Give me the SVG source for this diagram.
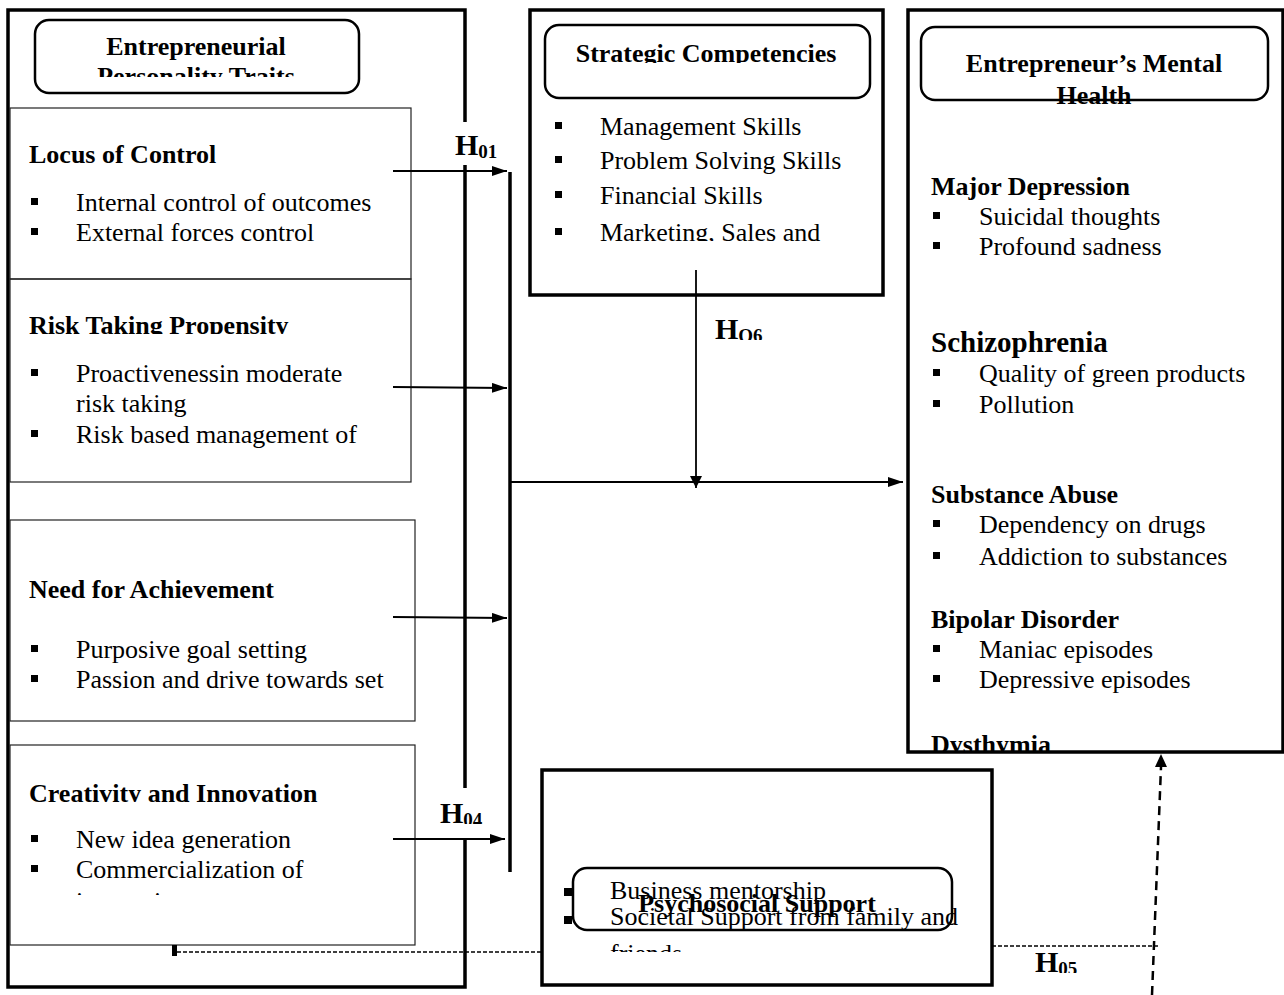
<svg xmlns="http://www.w3.org/2000/svg" width="1284" height="995" viewBox="0 0 1284 995">
<defs>
<style>
text{font-family:"Liberation Serif","Times New Roman",serif;fill:#000}
.t{font-size:26px}
.b{font-size:26px;font-weight:bold}
.bl{font-size:29px;font-weight:bold}
.h{font-size:30px;font-weight:bold}
.s{font-size:19px;font-weight:bold}
.outer{fill:none;stroke:#000;stroke-width:3.5}
.item{fill:none;stroke:#222;stroke-width:1.2}
.hdr{fill:none;stroke:#000;stroke-width:2.5}
.bul{fill:#000}
.ln{stroke:#000;stroke-width:1.8;fill:none}
.thick{stroke:#000;stroke-width:3.5;fill:none}
.dash{stroke:#000;stroke-width:1.3;stroke-dasharray:4 2;fill:none}
.dash2{stroke:#000;stroke-width:2.5;stroke-dasharray:9 6;fill:none}
.mid{text-anchor:middle}
</style>
<marker id="arr" viewBox="0 0 15 10" refX="15" refY="5" markerWidth="15" markerHeight="10" markerUnits="userSpaceOnUse" orient="auto"><path d="M0,0 L15,5 L0,10 z" fill="#000"/></marker>
<marker id="arr2" viewBox="0 0 12 12" refX="12" refY="6" markerWidth="12" markerHeight="12" markerUnits="userSpaceOnUse" orient="auto"><path d="M0,0 L12,6 L0,12 z" fill="#000"/></marker>
<clipPath id="cEPT"><rect x="0" y="0" width="465" height="77"/></clipPath>
<clipPath id="cRisk"><rect x="0" y="300" width="465" height="34"/></clipPath>
<clipPath id="cCre"><rect x="0" y="760" width="465" height="42"/></clipPath>
<clipPath id="cInn"><rect x="0" y="880" width="465" height="15"/></clipPath>
<clipPath id="cSC"><rect x="530" y="0" width="353" height="63"/></clipPath>
<clipPath id="cMkt"><rect x="530" y="210" width="353" height="31"/></clipPath>
<clipPath id="cDys"><rect x="908" y="700" width="376" height="51"/></clipPath>
<clipPath id="cFr"><rect x="542" y="930" width="450" height="22"/></clipPath>
<clipPath id="cH04"><rect x="420" y="780" width="100" height="44"/></clipPath>
<clipPath id="cH06"><rect x="700" y="300" width="100" height="40"/></clipPath>
<clipPath id="cH05"><rect x="1020" y="930" width="100" height="43"/></clipPath>
</defs>
<rect width="1284" height="995" fill="#fff"/>

<g id="personality-traits">
<path class="outer" d="M465,122 V10 H8 V987 H465 V838 M465,788 V165"/>
<rect class="hdr" x="35" y="20" width="324" height="73" rx="14"/>
<g clip-path="url(#cEPT)">
<text class="b mid" x="196" y="55">Entrepreneurial</text>
<text class="b mid" x="196" y="85">Personality Traits</text>
</g>
</g>

<g id="locus-of-control">
<rect class="item" x="10" y="108" width="401" height="171"/>
<text class="b" x="29" y="163">Locus of Control</text>
<rect class="bul" x="31" y="198" width="7" height="7"/>
<text class="t" x="76" y="211">Internal control of outcomes</text>
<rect class="bul" x="31" y="228" width="7" height="7"/>
<text class="t" x="76" y="241">External forces control</text>
</g>

<g id="risk-taking">
<rect class="item" x="10" y="279" width="401" height="203"/>
<text class="b" x="29" y="334" clip-path="url(#cRisk)">Risk Taking Propensity</text>
<rect class="bul" x="31" y="369" width="7" height="7"/>
<text class="t" x="76" y="382">Proactivenessin moderate</text>
<text class="t" x="76" y="412">risk taking</text>
<rect class="bul" x="31" y="430" width="7" height="7"/>
<text class="t" x="76" y="443">Risk based management of</text>
</g>

<g id="need-for-achievement">
<rect class="item" x="10" y="520" width="405" height="201"/>
<text class="b" x="29" y="598">Need for Achievement</text>
<rect class="bul" x="31" y="645" width="7" height="7"/>
<text class="t" x="76" y="658">Purposive goal setting</text>
<rect class="bul" x="31" y="675" width="7" height="7"/>
<text class="t" x="76" y="688">Passion and drive towards set</text>
</g>

<g id="creativity-innovation">
<rect class="item" x="10" y="745" width="405" height="200"/>
<text class="b" x="29" y="802" clip-path="url(#cCre)">Creativity and Innovation</text>
<rect class="bul" x="31" y="835" width="7" height="7"/>
<text class="t" x="76" y="848">New idea generation</text>
<rect class="bul" x="31" y="865" width="7" height="7"/>
<text class="t" x="76" y="878">Commercialization of</text>
<text class="t" x="76" y="910" clip-path="url(#cInn)">innovation</text>
</g>

<g id="strategic-competencies">
<rect class="outer" x="530" y="10" width="353" height="285"/>
<rect class="hdr" x="545" y="25" width="325" height="73" rx="14"/>
<text class="b mid" x="706" y="62" clip-path="url(#cSC)">Strategic Competencies</text>
<rect class="bul" x="555" y="122" width="7" height="7"/>
<text class="t" x="600" y="135">Management Skills</text>
<rect class="bul" x="555" y="156" width="7" height="7"/>
<text class="t" x="600" y="169">Problem Solving Skills</text>
<rect class="bul" x="555" y="191" width="7" height="7"/>
<text class="t" x="600" y="204">Financial Skills</text>
<rect class="bul" x="555" y="228" width="7" height="7"/>
<text class="t" x="600" y="241" clip-path="url(#cMkt)">Marketing, Sales and</text>
</g>

<g id="mental-health">
<rect class="outer" x="908" y="10" width="375" height="742"/>
<rect class="hdr" x="921" y="27" width="347" height="73" rx="14"/>
<text class="b mid" x="1094" y="72">Entrepreneur’s Mental</text>
<text class="b mid" x="1094" y="104">Health</text>
<text class="b" x="931" y="195">Major Depression</text>
<rect class="bul" x="933" y="212" width="7" height="7"/>
<text class="t" x="979" y="225">Suicidal thoughts</text>
<rect class="bul" x="933" y="242" width="7" height="7"/>
<text class="t" x="979" y="255">Profound sadness</text>
<text class="bl" x="931" y="352">Schizophrenia</text>
<rect class="bul" x="933" y="369" width="7" height="7"/>
<text class="t" x="979" y="382">Quality of green products</text>
<rect class="bul" x="933" y="400" width="7" height="7"/>
<text class="t" x="979" y="413">Pollution</text>
<text class="b" x="931" y="503">Substance Abuse</text>
<rect class="bul" x="933" y="520" width="7" height="7"/>
<text class="t" x="979" y="533">Dependency on drugs</text>
<rect class="bul" x="933" y="552" width="7" height="7"/>
<text class="t" x="979" y="565">Addiction to substances</text>
<text class="b" x="931" y="628">Bipolar Disorder</text>
<rect class="bul" x="933" y="645" width="7" height="7"/>
<text class="t" x="979" y="658">Maniac episodes</text>
<rect class="bul" x="933" y="675" width="7" height="7"/>
<text class="t" x="979" y="688">Depressive episodes</text>
<text class="b" x="931" y="753" clip-path="url(#cDys)">Dysthymia</text>
</g>

<g id="psychosocial-support">
<rect class="outer" x="542" y="770" width="450" height="215"/>
<rect class="bul" x="564" y="888" width="8" height="8"/>
<rect class="bul" x="564" y="916" width="8" height="8"/>
<text class="t" x="610" y="899">Business mentorship</text>
<text class="t" x="610" y="925">Societal Support from family and</text>
<text class="t" x="610" y="962" clip-path="url(#cFr)">friends</text>
<rect class="hdr" x="573" y="868" width="379" height="62" rx="14"/>
<text class="b mid" x="757" y="912">Psychosocial Support</text>
</g>

<g id="connectors">
<line class="thick" x1="510" y1="172" x2="510" y2="872"/>
<line class="ln" x1="393" y1="171" x2="507" y2="171" marker-end="url(#arr)"/>
<line class="ln" x1="393" y1="387" x2="507" y2="388" marker-end="url(#arr)"/>
<line class="ln" x1="393" y1="617" x2="507" y2="618" marker-end="url(#arr)"/>
<line class="ln" x1="393" y1="839" x2="505" y2="839" marker-end="url(#arr)"/>
<line class="ln" x1="510" y1="482" x2="903" y2="482" marker-end="url(#arr)"/>
<line class="ln" x1="696" y1="270" x2="696" y2="488" marker-end="url(#arr2)"/>
<rect x="172" y="945" width="5" height="11" fill="#000"/>
<line class="dash" x1="177" y1="952" x2="542" y2="952"/>
<line class="dash" x1="992" y1="946" x2="1158" y2="946"/>
<line class="dash2" x1="1152" y1="995" x2="1161" y2="767"/>
<path d="M1161,754 L1167,767 L1155,767 z" fill="#000"/>
</g>

<g id="labels">
<text class="h" x="455" y="155">H<tspan class="s" dy="3">01</tspan></text>
<text class="h" x="440" y="823" clip-path="url(#cH04)">H<tspan class="s" dy="3">04</tspan></text>
<text class="h" x="715" y="339" clip-path="url(#cH06)">H<tspan class="s" dy="3">O6</tspan></text>
<text class="h" x="1035" y="972" clip-path="url(#cH05)">H<tspan class="s" dy="3">05</tspan></text>
</g>
</svg>
